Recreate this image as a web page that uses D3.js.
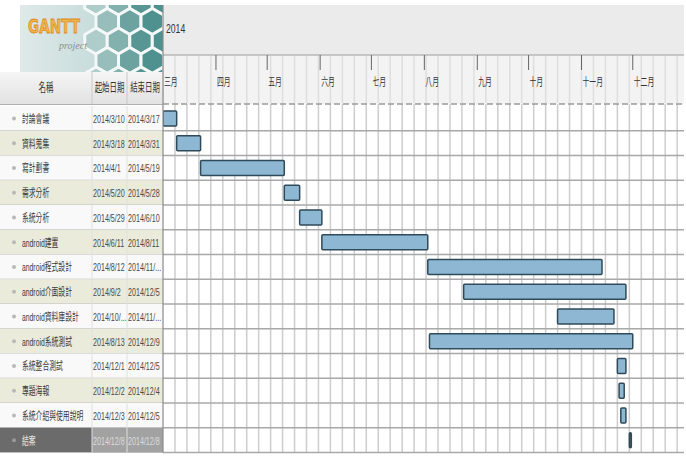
<!DOCTYPE html>
<html>
<head>
<meta charset="utf-8">
<script src="https://cdn.jsdelivr.net/npm/d3@7.9.0/dist/d3.min.js"></script>
<style>
  html, body { margin: 0; padding: 0; background: #fff; }
  svg { display: block; }
  text { font-family: "Liberation Sans", Arial, "Noto Sans CJK TC", sans-serif; }
</style>
</head>
<body>
<div id="chart"></div>
<script>
// task table
const taskNames = ['討論會議', '資料蒐集', '寫計劃書', '需求分析', '系統分析', 'android建置', 'android程式設計',
  'android介面設計', 'android資料庫設計', 'android系統測試', '系統整合測試', '專題海報', '系統介紹與使用說明', '結案'];
const startDates = ['2014-03-10', '2014-03-18', '2014-04-01', '2014-05-20', '2014-05-29', '2014-06-11', '2014-08-12',
  '2014-09-02', '2014-10-27', '2014-08-13', '2014-12-01', '2014-12-02', '2014-12-03', '2014-12-08'];
const endDates = ['2014-03-17', '2014-03-31', '2014-05-19', '2014-05-28', '2014-06-10', '2014-08-11', '2014-11-21',
  '2014-12-05', '2014-11-28', '2014-12-09', '2014-12-05', '2014-12-04', '2014-12-05', '2014-12-08'];
const columnHeaders = ['名稱', '起始日期', '結束日期'];
const yearLabel = '2014';
const monthLabels = ['三月', '四月', '五月', '六月', '七月', '八月', '九月', '十月', '十一月', '十二月'];
const monthTickDates = ['2014-03-10', '2014-04-10', '2014-05-10', '2014-06-10', '2014-07-10', '2014-08-10',
  '2014-09-10', '2014-10-10', '2014-11-10', '2014-12-10'];
const viewStart = '2014-03-10', viewEnd = '2015-01-09';

const parse = s => { const [y, m, d] = s.split('-').map(Number); return new Date(y, m - 1, d); };
const fmtDate = s => {
  const d = parse(s);
  const t = `${d.getFullYear()}/${d.getMonth() + 1}/${d.getDate()}`;
  return t.length > 9 ? t.slice(0, 8) + '...' : t;
};

const W = 686, H = 457;
const chartLeft = 163, chartRight = 684;
const colX = [0, 92, 127, 163];
const rowTop = 106, rowH = 24.75;

const tasks = taskNames.map((name, i) => ({
  name, i, start: parse(startDates[i]), end: d3.timeDay.offset(parse(endDates[i]), 1),
  startLabel: fmtDate(startDates[i]), endLabel: fmtDate(endDates[i]),
}));

const x = d3.scaleTime().domain([parse(viewStart), parse(viewEnd)]).range([chartLeft, chartRight]);
const y = d3.scaleBand().domain(d3.range(taskNames.length)).range([rowTop, rowTop + rowH * taskNames.length]);

const svg = d3.select('#chart').append('svg').attr('width', W).attr('height', H);
const defs = svg.append('defs');

function squeezed(g, tx, ty, str, size, sx, anchor, fill, weight) {
  return g.append('text')
    .attr('transform', `translate(${tx},${ty}) scale(${sx},1)`)
    .attr('text-anchor', anchor || 'start')
    .style('font-size', size + 'px')
    .style('font-weight', weight || 'normal')
    .attr('fill', fill || '#444')
    .text(str);
}

// ---- logo ----
const lg = defs.append('linearGradient').attr('id', 'logoBg');
lg.append('stop').attr('offset', '0%').attr('stop-color', '#dfe9e9');
lg.append('stop').attr('offset', '55%').attr('stop-color', '#c6dcdb');
lg.append('stop').attr('offset', '100%').attr('stop-color', '#a9c9c8');
defs.append('clipPath').attr('id', 'logoClip').append('rect')
  .attr('x', 20).attr('y', 5).attr('width', chartLeft - 20).attr('height', 67);

const logo = svg.append('g');
logo.append('rect').attr('x', 20).attr('y', 5).attr('width', chartLeft - 20).attr('height', 67).attr('fill', 'url(#logoBg)');
const hexG = logo.append('g').attr('clip-path', 'url(#logoClip)');
const hr = 13;
const hexPath = d3.line()(d3.range(6).map(k => {
  const a = Math.PI / 3 * k + Math.PI / 6;
  return [hr * Math.cos(a), hr * Math.sin(a)];
})) + 'Z';
for (let row = 0; row < 5; row++) {
  for (let col = 0; col < 6; col++) {
    const cx = 96 + col * hr * Math.sqrt(3) + (row % 2 ? hr * Math.sqrt(3) / 2 : 0);
    const cy = 2 + row * hr * 1.5;
    const t = Math.min(1, Math.max(0, (cx - 90) / 55));
    hexG.append('path').attr('d', hexPath).attr('transform', `translate(${cx},${cy})`)
      .attr('fill', d3.interpolateRgb('#b9d3d1', '#4f918e')(t))
      .attr('stroke', '#f4f8f8').attr('stroke-width', 3);
  }
}
squeezed(logo, 28, 33, 'GANTT', 20, 0.68, 'start', '#f2b24a', 'bold')
  .attr('stroke', '#d98c1c').attr('stroke-width', 0.8).style('font-family', '"DejaVu Sans", sans-serif');
logo.append('text').attr('x', 59).attr('y', 49).style('font-size', '10px').style('font-style', 'italic')
  .style('font-family', '"Liberation Serif", serif').attr('fill', '#8a8f8f').text('project');

// ---- timeline header ----
svg.append('rect').attr('x', chartLeft).attr('y', 5).attr('width', chartRight - chartLeft).attr('height', 50).attr('fill', '#ebebeb');
svg.append('rect').attr('x', chartLeft).attr('y', 55).attr('width', chartRight - chartLeft).attr('height', 49).attr('fill', '#f3f3f3');
squeezed(svg, chartLeft + 3, 33, yearLabel, 12, 0.72, 'start', '#333');

const weeks = d3.timeMonday.range(parse(viewStart), parse(viewEnd));
svg.append('g').selectAll('line').data(weeks).join('line')
  .attr('x1', d => x(d)).attr('x2', d => x(d)).attr('y1', 56).attr('y2', 103)
  .attr('stroke', '#dedede').attr('stroke-width', 1.5);
svg.append('line').attr('x1', chartLeft).attr('x2', chartRight).attr('y1', 55).attr('y2', 55)
  .attr('stroke', '#9c9c9c').attr('stroke-width', 1.2);

const months = monthTickDates.map((d, i) => ({ date: parse(d), label: monthLabels[i] }));
const mg = svg.append('g');
mg.selectAll('line').data(months.slice(1)).join('line')
  .attr('x1', d => x(d.date)).attr('x2', d => x(d.date)).attr('y1', 55).attr('y2', 70)
  .attr('stroke', '#666').attr('stroke-width', 1);
months.forEach(m => squeezed(mg, x(m.date) + 1, 86, m.label, 11, 0.62, 'start', '#333'));

// ---- chart body ----
svg.append('rect').attr('x', chartLeft).attr('y', rowTop).attr('width', chartRight - chartLeft)
  .attr('height', rowH * taskNames.length).attr('fill', '#fff');
svg.append('g').selectAll('line').data(weeks.slice(1)).join('line')
  .attr('x1', d => x(d)).attr('x2', d => x(d)).attr('y1', 104).attr('y2', rowTop + rowH * taskNames.length)
  .attr('stroke', '#cdcdcd').attr('stroke-width', 1.5);
svg.append('g').selectAll('line').data(d3.range(1, taskNames.length + 1)).join('line')
  .attr('x1', chartLeft).attr('x2', chartRight)
  .attr('y1', d => rowTop + rowH * d).attr('y2', d => rowTop + rowH * d)
  .attr('stroke', '#a8a8a8').attr('stroke-width', 1.5);
svg.append('line').attr('x1', chartLeft).attr('x2', chartRight).attr('y1', 104).attr('y2', 104)
  .attr('stroke', '#9a9a9a').attr('stroke-width', 1.5).attr('stroke-dasharray', '6,3');

const barH = 15;
svg.append('g').selectAll('rect').data(tasks).join('rect')
  .attr('x', d => x(d.start))
  .attr('y', d => y(d.i) + (rowH - barH) / 2)
  .attr('width', d => Math.max(2, x(d.end) - x(d.start)))
  .attr('height', barH)
  .attr('rx', 1)
  .attr('fill', d => d.i === taskNames.length - 1 ? '#555' : '#8db7d2')
  .attr('stroke', '#2f4a58').attr('stroke-width', 1.5);

// ---- task table ----
const hg = defs.append('linearGradient').attr('id', 'headBg').attr('x1', 0).attr('x2', 0).attr('y1', 0).attr('y2', 1);
hg.append('stop').attr('offset', '0%').attr('stop-color', '#f5f5f5');
hg.append('stop').attr('offset', '100%').attr('stop-color', '#e2e2e2');
const table = svg.append('g');
table.append('rect').attr('x', 0).attr('y', 72).attr('width', chartLeft).attr('height', 32).attr('fill', 'url(#headBg)');
[colX[1], colX[2]].forEach(cx => table.append('line').attr('x1', cx).attr('x2', cx).attr('y1', 72).attr('y2', 104)
  .attr('stroke', '#c8c8c8'));
columnHeaders.forEach((h, i) => squeezed(table, (colX[i] + colX[i + 1]) / 2, 92, h, 12, 0.62, 'middle', '#333'));
table.append('line').attr('x1', 0).attr('x2', chartLeft).attr('y1', 104.5).attr('y2', 104.5).attr('stroke', '#b0b0b0');

const last = taskNames.length - 1;
const rows = table.selectAll('g.row').data(tasks).join('g').attr('class', 'row')
  .attr('transform', d => `translate(0,${y(d.i)})`);
rows.append('rect').attr('x', 0).attr('width', colX[1]).attr('height', rowH)
  .attr('fill', d => d.i === last ? '#6b6b6b' : d.i % 2 ? '#ebebdc' : '#f9f9f9');
rows.append('rect').attr('x', colX[1]).attr('width', colX[3] - colX[1]).attr('height', rowH)
  .attr('fill', d => d.i === last ? '#a2a2a2' : d.i % 2 ? '#ebebdc' : '#f9f9f9');
rows.append('line').attr('x1', 0).attr('x2', chartLeft).attr('y1', rowH).attr('y2', rowH)
  .attr('stroke', '#bdbdbd').attr('stroke-width', 1.2);
rows.append('circle').attr('cx', 14).attr('cy', rowH / 2).attr('r', 2)
  .attr('fill', d => d.i === last ? '#999' : '#b8b8b8');
rows.each(function (d) {
  const g = d3.select(this);
  const c = d.i === last ? '#e6e6e6' : '#3a3a3a';
  const c2 = d.i === last ? '#dcdcdc' : '#4a4a4a';
  squeezed(g, 22, rowH / 2 + 4.5, d.name, 11, 0.62, 'start', c);
  squeezed(g, colX[1] + 1, rowH / 2 + 4.5, d.startLabel, 11, 0.65, 'start', c2);
  squeezed(g, colX[2] + 1, rowH / 2 + 4.5, d.endLabel, 11, 0.65, 'start', c2);
});
[colX[1], colX[2]].forEach(cx => table.append('line').attr('x1', cx).attr('x2', cx).attr('y1', rowTop).attr('y2', y(last) + rowH)
  .attr('stroke', '#e0e0e0'));

svg.append('line').attr('x1', chartLeft).attr('x2', chartLeft).attr('y1', 5).attr('y2', y(last) + rowH)
  .attr('stroke', '#8a8a8a').attr('stroke-width', 1.2);
</script>
</body>
</html>
